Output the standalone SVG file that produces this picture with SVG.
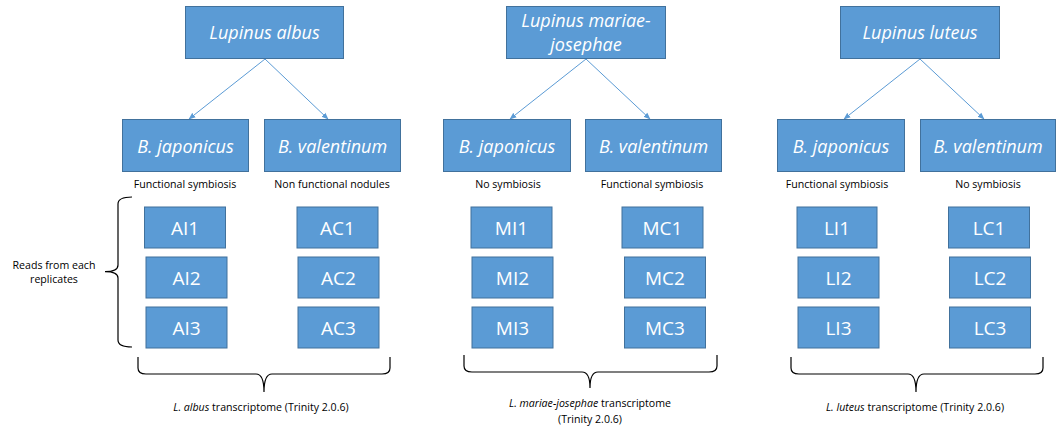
<svg xmlns="http://www.w3.org/2000/svg" width="1056" height="437" viewBox="0 0 1056 437">
<style>
.box{fill:#5B9BD5;stroke:#41719C;stroke-width:1}
.t{font-family:"Open Sans","Noto Sans",sans-serif;fill:#fff;text-anchor:middle}
.big{font-size:18px;font-style:italic}
.rep{font-size:19px}
.s{font-family:"Open Sans","Noto Sans",sans-serif;font-size:10.6px;fill:#000;text-anchor:middle}
.conn{stroke:#5B9BD5;stroke-width:1;fill:none}
.br{stroke:#000;stroke-width:1.2;fill:none}
</style>
<defs>
<marker id="ah" viewBox="0 0 10 10" refX="9" refY="5" markerWidth="7" markerHeight="7" orient="auto" markerUnits="userSpaceOnUse">
<path d="M0,1 L10,5 L0,9 z" fill="#5B9BD5"/>
</marker>
</defs>
<rect width="1056" height="437" fill="#fff"/>
<g id="connectors">
<line class="conn" x1="265" y1="59" x2="189" y2="119" marker-end="url(#ah)"/>
<line class="conn" x1="265" y1="59" x2="328" y2="119" marker-end="url(#ah)"/>
<line class="conn" x1="586" y1="59" x2="510" y2="119" marker-end="url(#ah)"/>
<line class="conn" x1="586" y1="59" x2="650" y2="119" marker-end="url(#ah)"/>
<line class="conn" x1="920" y1="59" x2="844" y2="119" marker-end="url(#ah)"/>
<line class="conn" x1="920" y1="59" x2="984" y2="119" marker-end="url(#ah)"/>
</g>
<g id="albus"><rect class="box" x="185.5" y="6.5" width="158" height="52"/><text class="t big" x="264.5" y="39">Lupinus albus</text></g>
<g id="mariae"><rect class="box" x="506.5" y="6.5" width="159" height="52"/><text class="t big" x="586" y="27">Lupinus mariae-</text><text class="t big" x="586" y="50.5">josephae</text></g>
<g id="luteus"><rect class="box" x="840.5" y="6.5" width="159" height="52"/><text class="t big" x="920" y="39">Lupinus luteus</text></g>

<g id="a_bj"><rect class="box" x="122.5" y="119.5" width="126" height="52"/><text class="t big" x="185.5" y="152.5">B. japonicus</text></g>
<g id="a_bv"><rect class="box" x="264.5" y="119.5" width="136" height="52"/><text class="t big" x="332.5" y="152.5">B. valentinum</text></g>
<g id="m_bj"><rect class="box" x="443.5" y="119.5" width="127" height="52"/><text class="t big" x="507" y="152.5">B. japonicus</text></g>
<g id="m_bv"><rect class="box" x="585.5" y="119.5" width="136" height="52"/><text class="t big" x="653.5" y="152.5">B. valentinum</text></g>
<g id="l_bj"><rect class="box" x="777.5" y="119.5" width="127" height="52"/><text class="t big" x="841" y="152.5">B. japonicus</text></g>
<g id="l_bv"><rect class="box" x="920.5" y="119.5" width="135" height="52"/><text class="t big" x="988" y="152.5">B. valentinum</text></g>

<g id="notes">
<text class="s" x="185" y="188">Functional symbiosis</text>
<text class="s" x="332" y="188">Non functional nodules</text>
<text class="s" x="508" y="188">No symbiosis</text>
<text class="s" x="652" y="188">Functional symbiosis</text>
<text class="s" x="837" y="188">Functional symbiosis</text>
<text class="s" x="988" y="188">No symbiosis</text>
<text class="s" x="54" y="269">Reads from each</text>
<text class="s" x="54" y="283">replicates</text>
<text class="s" x="261" y="411"><tspan font-style="italic">L. albus</tspan> transcriptome (Trinity 2.0.6)</text>
<text class="s" x="590" y="407"><tspan font-style="italic">L. mariae-josephae</tspan> transcriptome</text>
<text class="s" x="590" y="423">(Trinity 2.0.6)</text>
<text class="s" x="915" y="411"><tspan font-style="italic">L. luteus</tspan> transcriptome (Trinity 2.0.6)</text>
</g>

<g id="AI1"><rect class="box" x="144.5" y="207" width="81" height="41"/><text class="t rep" x="185" y="234.5">AI1</text></g>
<g id="AI2"><rect class="box" x="146" y="257" width="81" height="41"/><text class="t rep" x="186.5" y="284.5">AI2</text></g>
<g id="AI3"><rect class="box" x="146" y="307" width="81" height="41"/><text class="t rep" x="186.5" y="334.5">AI3</text></g>
<g id="AC1"><rect class="box" x="297" y="207" width="81" height="41"/><text class="t rep" x="337.5" y="234.5">AC1</text></g>
<g id="AC2"><rect class="box" x="298" y="257" width="81" height="41"/><text class="t rep" x="338.5" y="284.5">AC2</text></g>
<g id="AC3"><rect class="box" x="298" y="307" width="81" height="41"/><text class="t rep" x="338.5" y="334.5">AC3</text></g>

<g id="MI1"><rect class="box" x="471" y="207" width="81" height="41"/><text class="t rep" x="511.5" y="234.5">MI1</text></g>
<g id="MI2"><rect class="box" x="472" y="257" width="81" height="41"/><text class="t rep" x="512.5" y="284.5">MI2</text></g>
<g id="MI3"><rect class="box" x="472" y="307" width="81" height="41"/><text class="t rep" x="512.5" y="334.5">MI3</text></g>
<g id="MC1"><rect class="box" x="622" y="207" width="81" height="41"/><text class="t rep" x="662.5" y="234.5">MC1</text></g>
<g id="MC2"><rect class="box" x="624.5" y="257" width="81" height="41"/><text class="t rep" x="665" y="284.5">MC2</text></g>
<g id="MC3"><rect class="box" x="624.5" y="307" width="81" height="41"/><text class="t rep" x="665" y="334.5">MC3</text></g>

<g id="LI1"><rect class="box" x="797" y="207" width="80" height="41"/><text class="t rep" x="837" y="234.5">LI1</text></g>
<g id="LI2"><rect class="box" x="798" y="257" width="81" height="41"/><text class="t rep" x="838.5" y="284.5">LI2</text></g>
<g id="LI3"><rect class="box" x="798" y="307" width="81" height="41"/><text class="t rep" x="838.5" y="334.5">LI3</text></g>
<g id="LC1"><rect class="box" x="948.5" y="207" width="81" height="41"/><text class="t rep" x="989" y="234.5">LC1</text></g>
<g id="LC2"><rect class="box" x="949.5" y="257" width="81" height="41"/><text class="t rep" x="990" y="284.5">LC2</text></g>
<g id="LC3"><rect class="box" x="949.5" y="307" width="81" height="41"/><text class="t rep" x="990" y="334.5">LC3</text></g>

<g id="braces">
<path class="br" d="M132,197 Q118,197 118,204 L118,265 Q118,271.7 105,271.7 Q118,271.7 118,278 L118,340 Q118,347 132,347"/>
<path class="br" d="M138,357 L138,368 Q138,374 146,374 L256,374 Q264,374 264,392 Q264,374 272,374 L382,374 Q390,374 390,368 L390,357"/>
<path class="br" d="M464,355 L464,366 Q464,372 472,372 L582,372 Q590,372 590,388 Q590,372 598,372 L709,372 Q717,372 717,366 L717,355"/>
<path class="br" d="M791,357 L791,368 Q791,374 799,374 L908,374 Q916,374 916,392 Q916,374 924,374 L1035,374 Q1043,374 1043,368 L1043,357"/>
</g>
</svg>
